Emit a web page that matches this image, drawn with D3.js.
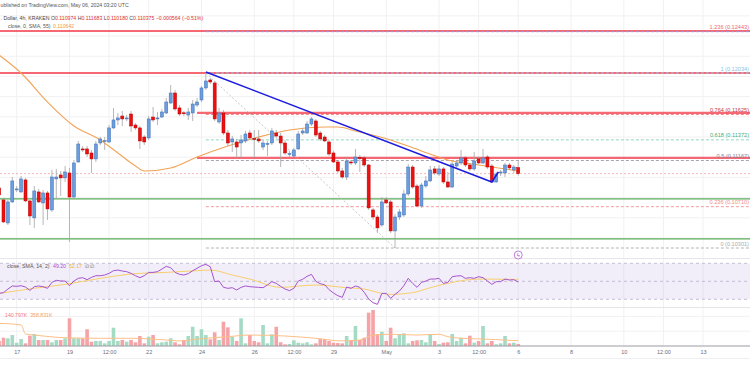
<!DOCTYPE html>
<html>
<head>
<meta charset="utf-8">
<script src="https://cdn.jsdelivr.net/npm/d3@7"></script>
<style>
  body { margin: 0; background: #fff; overflow: hidden; }
  text { font-family: "Liberation Sans", Arial, sans-serif; }
</style>
</head>
<body>
<div id="chart"></div>
<script>
// 4h candles, first one Apr 16 08:00 UTC, last one May 6 00:00 UTC  [open, high, low, close]
const ohlc = [
  [0.10896,0.10925,0.10806,0.10826],[0.10777,0.10797,0.10549,0.10559],[0.10549,0.10777,0.10529,0.10757],
  [0.10757,0.11004,0.10747,0.10965],[0.10880,0.10915,0.10856,0.10886],[0.10856,0.11014,0.10846,0.10985],
  [0.10975,0.10995,0.10757,0.10767],[0.10767,0.10777,0.10529,0.10618],[0.10599,0.10915,0.10500,0.10866],
  [0.10856,0.10886,0.10747,0.10757],[0.10747,0.10876,0.10529,0.10846],[0.10846,0.10866,0.10579,0.10688],
  [0.10678,0.11074,0.10658,0.11004],[0.10985,0.11084,0.10787,0.11004],[0.11024,0.11064,0.10816,0.10995],
  [0.10995,0.11113,0.10955,0.11054],[0.11044,0.11094,0.10361,0.10806],[0.10806,0.11173,0.10797,0.11143],
  [0.11153,0.11361,0.11143,0.11331],[0.11282,0.11311,0.11252,0.11272],[0.11282,0.11311,0.11202,0.11232],
  [0.11242,0.11272,0.11044,0.11183],[0.11183,0.11361,0.11153,0.11331],[0.11341,0.11400,0.11321,0.11381],
  [0.11361,0.11400,0.11272,0.11365],[0.11351,0.11519,0.11341,0.11490],[0.11490,0.11688,0.11480,0.11569],
  [0.11569,0.11638,0.11519,0.11589],[0.11608,0.11658,0.11509,0.11579],[0.11585,0.11618,0.11559,0.11589],
  [0.11628,0.11658,0.11450,0.11509],[0.11519,0.11539,0.11470,0.11490],[0.11490,0.11509,0.11282,0.11361],
  [0.11400,0.11420,0.11321,0.11351],[0.11391,0.11608,0.11371,0.11579],[0.11598,0.11697,0.11549,0.11569],
  [0.11579,0.11648,0.11519,0.11589],[0.11598,0.11678,0.11589,0.11648],[0.11638,0.11787,0.11628,0.11747],
  [0.11737,0.11915,0.11727,0.11836],[0.11836,0.11866,0.11658,0.11678],[0.11688,0.11717,0.11608,0.11628],
  [0.11640,0.11658,0.11608,0.11632],[0.11618,0.11688,0.11569,0.11648],[0.11638,0.11767,0.11559,0.11727],
  [0.11717,0.11787,0.11697,0.11747],[0.11767,0.11905,0.11747,0.11886],[0.11886,0.12034,0.11866,0.11955],
  [0.11965,0.11985,0.11925,0.11945],[0.11935,0.11955,0.11559,0.11579],[0.11549,0.11688,0.11529,0.11638],
  [0.11638,0.11668,0.11420,0.11440],[0.11440,0.11470,0.11311,0.11341],[0.11351,0.11410,0.11252,0.11381],
  [0.11351,0.11381,0.11193,0.11301],[0.11341,0.11420,0.11193,0.11371],[0.11361,0.11460,0.11341,0.11430],
  [0.11440,0.11470,0.11371,0.11391],[0.11385,0.11470,0.11193,0.11378],[0.11381,0.11470,0.11341,0.11361],
  [0.11301,0.11371,0.11272,0.11341],[0.11328,0.11361,0.11212,0.11336],[0.11341,0.11490,0.11321,0.11460],
  [0.11440,0.11470,0.11391,0.11410],[0.11410,0.11440,0.11103,0.11341],[0.11341,0.11371,0.11222,0.11242],
  [0.11228,0.11262,0.11202,0.11236],[0.11212,0.11292,0.11202,0.11272],[0.11282,0.11460,0.11272,0.11430],
  [0.11440,0.11490,0.11420,0.11460],[0.11440,0.11559,0.11430,0.11529],[0.11529,0.11598,0.11509,0.11579],
  [0.11559,0.11579,0.11400,0.11420],[0.11440,0.11460,0.11361,0.11381],[0.11400,0.11420,0.11351,0.11361],
  [0.11351,0.11371,0.11212,0.11232],[0.11242,0.11262,0.11143,0.11153],[0.11153,0.11173,0.11044,0.11064],
  [0.11064,0.11094,0.10985,0.11004],[0.11004,0.11193,0.10975,0.11163],[0.11153,0.11173,0.11123,0.11143],
  [0.11143,0.11282,0.11123,0.11202],[0.11197,0.11222,0.11054,0.11190],[0.11193,0.11212,0.11103,0.11123],
  [0.11123,0.11133,0.10678,0.10698],[0.10678,0.10698,0.10579,0.10608],[0.10608,0.10628,0.10450,0.10500],
  [0.10529,0.10806,0.10509,0.10757],[0.10777,0.10806,0.10737,0.10747],[0.10757,0.10777,0.10450,0.10470],
  [0.10470,0.10638,0.10301,0.10608],[0.10608,0.10688,0.10579,0.10658],[0.10628,0.10876,0.10608,0.10836],
  [0.10836,0.11133,0.10816,0.11103],[0.11103,0.11123,0.10886,0.10905],[0.10915,0.10935,0.10707,0.10717],
  [0.10717,0.10945,0.10698,0.10925],[0.10915,0.11014,0.10896,0.10965],[0.10965,0.11113,0.10955,0.11074],
  [0.11084,0.11113,0.11024,0.11044],[0.11034,0.11123,0.11014,0.11084],[0.11084,0.11103,0.10935,0.10955],
  [0.10955,0.11054,0.10896,0.10905],[0.10905,0.11153,0.10896,0.11133],[0.11113,0.11173,0.11094,0.11143],
  [0.11143,0.11272,0.11123,0.11193],[0.11193,0.11212,0.11103,0.11123],[0.11123,0.11143,0.11064,0.11084],
  [0.11084,0.11252,0.11064,0.11163],[0.11183,0.11202,0.11133,0.11143],[0.11143,0.11282,0.11133,0.11193],
  [0.11202,0.11222,0.11084,0.11103],[0.11113,0.11133,0.10945,0.10955],[0.10955,0.11054,0.10945,0.11034],
  [0.11050,0.11074,0.11014,0.11054],[0.11044,0.11143,0.11004,0.11123],[0.11123,0.11143,0.11074,0.11094],
  [0.11074,0.11123,0.11044,0.11103],[0.110974,0.111683,0.110180,0.110375]
];

// volume per candle, thousands
const volume = [
  340,560,520,740,220,470,180,695,810,405,405,405,250,405,405,520,1870,520,520,520,
  1130,290,340,340,180,340,1235,340,405,290,405,250,675,180,630,740,180,250,290,520,
  250,115,405,675,1300,675,1130,740,450,925,405,1640,1260,630,340,1870,180,740,
  340,250,1420,180,790,1300,250,115,135,385,225,180,250,115,180,470,470,340,225,200,
  180,675,405,1350,405,560,2250,2430,790,965,340,1235,520,790,855,180,340,385,405,250,
  810,340,135,225,250,810,340,560,180,695,225,340,1350,180,340,115,180,675,180,225,140.797
];

// RSI(14) per candle
const rsi = [
  36.6,37.4,41.4,44.8,44.4,45.1,43.6,39.9,44.0,44.8,44.0,42.2,48.8,51.1,50.3,50.3,45.1,50.3,53.3,54.0,
  51.8,54.4,56.2,56.2,57.0,58.8,61.8,62.5,61.4,60.7,58.8,56.2,54.0,56.2,59.9,59.9,60.7,63.6,66.6,65.1,
  59.9,57.7,57.0,58.5,61.8,64.4,67.3,68.8,66.2,49.6,50.3,43.3,42.2,42.9,40.3,43.3,44.8,
  44.0,43.6,43.3,42.9,45.9,49.6,47.7,44.4,41.4,39.6,42.2,50.3,52.2,55.5,57.7,49.9,47.3,46.2,40.7,37.0,
  34.0,32.2,43.6,42.2,44.8,43.3,37.7,30.3,26.2,24.4,36.6,36.6,31.1,35.5,39.2,45.1,53.3,47.7,43.3,48.8,
  50.3,52.5,52.5,53.3,47.7,48.8,55.1,55.9,56.2,53.3,54.0,53.3,55.1,54.0,50.3,46.6,49.6,49.6,52.5,51.4,
  51.8,49.2
];

// [candle index, value]
const rsiMaPts = [[0,36.6],[8,42.2],[15,46.6],[23,53.3],[30,58.1],[38,59.9],[45,61.8],[48,62.5],
  [53,57.0],[57,52.5],[64,43.3],[72,45.9],[79,42.9],[83,41.4],[87,36.6],[89,35.5],[94,37.4],
  [98,42.9],[102,47.7],[106,51.4],[110,52.5],[118,52.17]];
const smaPts = [[0,0.12212],[5,0.12034],[11,0.11747],[17,0.11509],[23,0.11371],[27,0.11242],
  [31,0.11113],[33,0.11064],[39,0.11094],[45,0.11202],[52,0.11311],[59,0.11400],[66,0.11470],
  [74,0.11499],[77,0.11499],[81,0.11460],[89,0.11371],[96,0.11262],[102,0.11173],[109,0.11123],
  [118,0.110642]];
const volSmaPts = [[0,1530],[5,1420],[6,810],[8,740],[15,560],[23,520],[30,520],[38,405],[41,340],
  [45,470],[52,630],[57,740],[65,675],[72,520],[78,340],[82,405],[85,740],[89,790],[95,740],
  [100,790],[102,630],[105,520],[110,470],[118,358.831]];

// drawings
const fibHigh = 0.12034, fibLow = 0.10301, fibStart = 47, fibEnd = 90;
const fibLevels = [1.236, 1, 0.764, 0.618, 0.5, 0.236, 0];
const fibLine  = ["#9a9ae6", "#9ccbf0", "#f06a6a", "#8fd6c0", "#a8a4ae", "#f39a9a", "#b4b4b4"];
const fibLabel = ["#e86a78", "#8dbfe8", "#c93a3a", "#3fae7e", "#8a8494", "#f08c8c", "#aaaaaa"];
const redLines = [[0.12450, 0], [0.12034, 0], [0.11640, 45], [0.11193, 45]];
const greenLines = [0.10787, 0.10391];
const trendPts = [[47, 0.12044], [112, 0.10955], [113.5, 0.11054]];
const lastClose = 0.110375;

const tickDates = [[3,17],[3,19],[3,20,12],[3,22],[3,24],[3,26],[3,27,12],[3,29],[4,1],[4,3],
  [4,4,12],[4,6],[4,8],[4,10],[4,11,12],[4,13]].map(d => new Date(Date.UTC(2024, d[0], d[1], d[2] || 0)));
const tickLabels = ["17","19","12:00","22","24","26","12:00","29","May","3","12:00","6","8","10","12:00","13"];

const W = 750, H = 375;
const svg = d3.select("#chart").append("svg").attr("width", W).attr("height", H);

const t0 = Date.UTC(2024, 3, 16, 8), step = 4 * 3600 * 1000;
const x = d3.scaleUtc().domain([Date.UTC(2024, 3, 17), Date.UTC(2024, 4, 13)]).range([16.7, 703]);
const xi = i => x(new Date(t0 + i * step));
const y = d3.scaleLinear().domain([fibLow, fibHigh]).range([248, 73]);
const yRsi = d3.scaleLinear().domain([30, 70]).range([299.3, 263.3]);
const yVol = d3.scaleLinear().domain([0, 2700]).range([346, 306]);

// grid
const grid = svg.append("g").attr("stroke", "#f1f1f3").attr("stroke-width", 1);
grid.selectAll("line.v").data(tickDates).enter().append("line")
  .attr("x1", d => x(d)).attr("x2", d => x(d)).attr("y1", 0).attr("y2", 346);
grid.selectAll("line.h").data(d3.range(0.104, 0.1261, 0.002)).enter().append("line")
  .attr("x1", 0).attr("x2", W).attr("y1", d => y(d)).attr("y2", d => y(d));
grid.selectAll("line.vh").data([1000, 2000]).enter().append("line")
  .attr("x1", 0).attr("x2", W).attr("y1", d => yVol(d)).attr("y2", d => yVol(d));
svg.append("line").attr("x1", 0).attr("x2", W).attr("y1", 258.5).attr("y2", 258.5).attr("stroke", "#e6e6ea");
svg.append("line").attr("x1", 0).attr("x2", W).attr("y1", 307.5).attr("y2", 307.5).attr("stroke", "#e6e6ea");

// horizontal drawings
svg.selectAll("line.red").data(redLines).enter().append("line")
  .attr("x1", d => d[1] ? xi(d[1]) : 0).attr("x2", W)
  .attr("y1", d => y(d[0])).attr("y2", d => y(d[0]))
  .attr("stroke", "#f23645").attr("stroke-opacity", 0.75).attr("stroke-width", 2.2);
svg.selectAll("line.green").data(greenLines).enter().append("line")
  .attr("x1", 0).attr("x2", W).attr("y1", d => y(d)).attr("y2", d => y(d))
  .attr("stroke", "#5aab5a").attr("stroke-width", 1.3);
svg.append("line").attr("x1", 0).attr("x2", W).attr("y1", y(lastClose)).attr("y2", y(lastClose))
  .attr("stroke", "#f5a5a5").attr("stroke-width", 0.8).attr("stroke-dasharray", "2,2");

// fib retracement
const fib = svg.append("g");
fibLevels.forEach((lv, k) => {
  const p = fibLow + lv * (fibHigh - fibLow);
  fib.append("line").attr("x1", xi(fibStart)).attr("x2", W).attr("y1", y(p)).attr("y2", y(p))
    .attr("stroke", fibLine[k]).attr("stroke-width", 1).attr("stroke-dasharray", "3,2");
  fib.append("text").attr("x", 749).attr("y", y(p) - 2.5).attr("text-anchor", "end")
    .attr("font-size", 5.6).attr("fill", fibLabel[k]).text(lv + " (" + p.toFixed(5) + ")");
});
fib.append("line").attr("x1", xi(fibStart)).attr("y1", y(fibHigh)).attr("x2", xi(fibEnd)).attr("y2", y(fibLow))
  .attr("stroke", "#b8b8b8").attr("stroke-width", 0.8).attr("stroke-dasharray", "2,2");

// SMA 55
svg.append("path").datum(smaPts)
  .attr("d", d3.line().x(d => xi(d[0])).y(d => y(d[1])).curve(d3.curveMonotoneX))
  .attr("fill", "none").attr("stroke", "#f2a356").attr("stroke-width", 1.1);

// candles
const bw = 3;
const cg = svg.append("g");
cg.selectAll("line.wick").data(ohlc).enter().append("line")
  .attr("x1", (d, i) => xi(i)).attr("x2", (d, i) => xi(i))
  .attr("y1", d => y(d[1])).attr("y2", d => y(d[2]))
  .attr("stroke", "#a4a4a4").attr("stroke-width", 0.8);
cg.selectAll("rect").data(ohlc).enter().append("rect")
  .attr("x", (d, i) => xi(i) - bw / 2).attr("width", bw)
  .attr("y", d => y(Math.max(d[0], d[3])))
  .attr("height", d => Math.max(1, Math.abs(y(d[0]) - y(d[3]))))
  .attr("fill", d => d[3] >= d[0] ? "#6b9edf" : "#ee1010")
  .attr("stroke", d => d[3] >= d[0] ? "#3f6fb3" : "#b30000").attr("stroke-width", 0.5);

// trend line
svg.append("path").datum(trendPts)
  .attr("d", d3.line().x(d => xi(d[0])).y(d => y(d[1])))
  .attr("fill", "none").attr("stroke", "#1c1ce0").attr("stroke-width", 1.6);

// RSI pane
svg.append("rect").attr("x", 0).attr("width", W).attr("y", yRsi(70)).attr("height", yRsi(30) - yRsi(70))
  .attr("fill", "#7e57c2").attr("fill-opacity", 0.1);
svg.selectAll("line.rl").data([70, 50, 30]).enter().append("line")
  .attr("x1", 0).attr("x2", W).attr("y1", d => yRsi(d)).attr("y2", d => yRsi(d))
  .attr("stroke", "#b9b0c6").attr("stroke-width", 0.8).attr("stroke-dasharray", "3,3");
svg.append("path").datum(rsiMaPts)
  .attr("d", d3.line().x(d => xi(d[0])).y(d => yRsi(d[1])).curve(d3.curveMonotoneX))
  .attr("fill", "none").attr("stroke", "#f7cf6b").attr("stroke-width", 1);
svg.append("path").datum(rsi)
  .attr("d", d3.line().x((d, i) => xi(i)).y(d => yRsi(d)))
  .attr("fill", "none").attr("stroke", "#a653cf").attr("stroke-width", 1);

// volume pane
svg.selectAll("rect.vol").data(volume).enter().append("rect")
  .attr("x", (d, i) => xi(i) - 1.8).attr("width", 3.6)
  .attr("y", d => yVol(d)).attr("height", d => yVol(0) - yVol(d))
  .attr("fill", (d, i) => ohlc[i][3] >= ohlc[i][0] ? "#a5dbc4" : "#f5a3a6");
svg.append("path").datum(volSmaPts)
  .attr("d", d3.line().x(d => xi(d[0])).y(d => yVol(d[1])).curve(d3.curveMonotoneX))
  .attr("fill", "none").attr("stroke", "#fdbf86").attr("stroke-width", 1);

// time axis
svg.append("line").attr("x1", 0).attr("x2", W).attr("y1", 346).attr("y2", 346).attr("stroke", "#9c9ca4");
const ax = svg.append("g").attr("transform", "translate(0,346)")
  .call(d3.axisBottom(x).tickValues(tickDates).tickFormat((d, i) => tickLabels[i]).tickSize(0).tickPadding(4));
ax.select(".domain").remove();
ax.selectAll("text").attr("font-size", 5.5).attr("fill", "#6a6d78").attr("font-family", "Liberation Sans, Arial, sans-serif");
svg.append("line").attr("x1", 0).attr("x2", W).attr("y1", 358.5).attr("y2", 358.5).attr("stroke", "#efeff2");

// alert icon
const ic = svg.append("g").attr("transform", "translate(" + xi(118) + ",255)");
ic.append("circle").attr("r", 4).attr("fill", "#fff").attr("stroke", "#b25bd6").attr("stroke-width", 0.8);
ic.append("text").attr("text-anchor", "middle").attr("y", 2).attr("font-size", 6).attr("fill", "#b25bd6").text("ϟ");

// legends (left part scrolled off the picture, only the visible part is drawn)
const fs = 5.2;
function legend(xx, yy, parts) {
  const t = svg.append("text").attr("x", xx).attr("y", yy).attr("font-size", fs);
  parts.forEach(p => t.append("tspan").attr("fill", p[1]).attr("dx", p[2] || 0).text(p[0]));
}
legend(0.5, 7, [["ublished on TradingView.com, May 06, 2024 03:20 UTC", "#555"]]);
legend(0.5, 20, [[". Dollar, 4h, KRAKEN  O", "#444"], ["0.110974", "#e03030"], [" H", "#444"],
  ["0.111683", "#e03030"], [" L", "#444"], ["0.110180", "#e03030"], [" C", "#444"], ["0.110375", "#e03030"],
  [" \u22120.000564 (\u22120.51%)", "#e03030"]]);
svg.append("text").attr("x", 50.5).attr("y", 28).attr("text-anchor", "end").attr("font-size", fs)
  .attr("fill", "#555").text("close, 0, SMA, 55)");
legend(53, 28, [["0.110642", "#f29a3e"]]);
svg.append("text").attr("x", 49.5).attr("y", 268).attr("text-anchor", "end").attr("font-size", fs)
  .attr("fill", "#555").text("close, SMA, 14, 2)");
legend(53, 268, [["49.20", "#a653cf"], ["52.17", "#e8b83a", 3], ["\u2205  \u2205", "#666", 3]]);
legend(5, 316.5, [["140.797K", "#ef7b7b"], ["358.831K", "#f5a45a", 3]]);
</script>
</body>
</html>
